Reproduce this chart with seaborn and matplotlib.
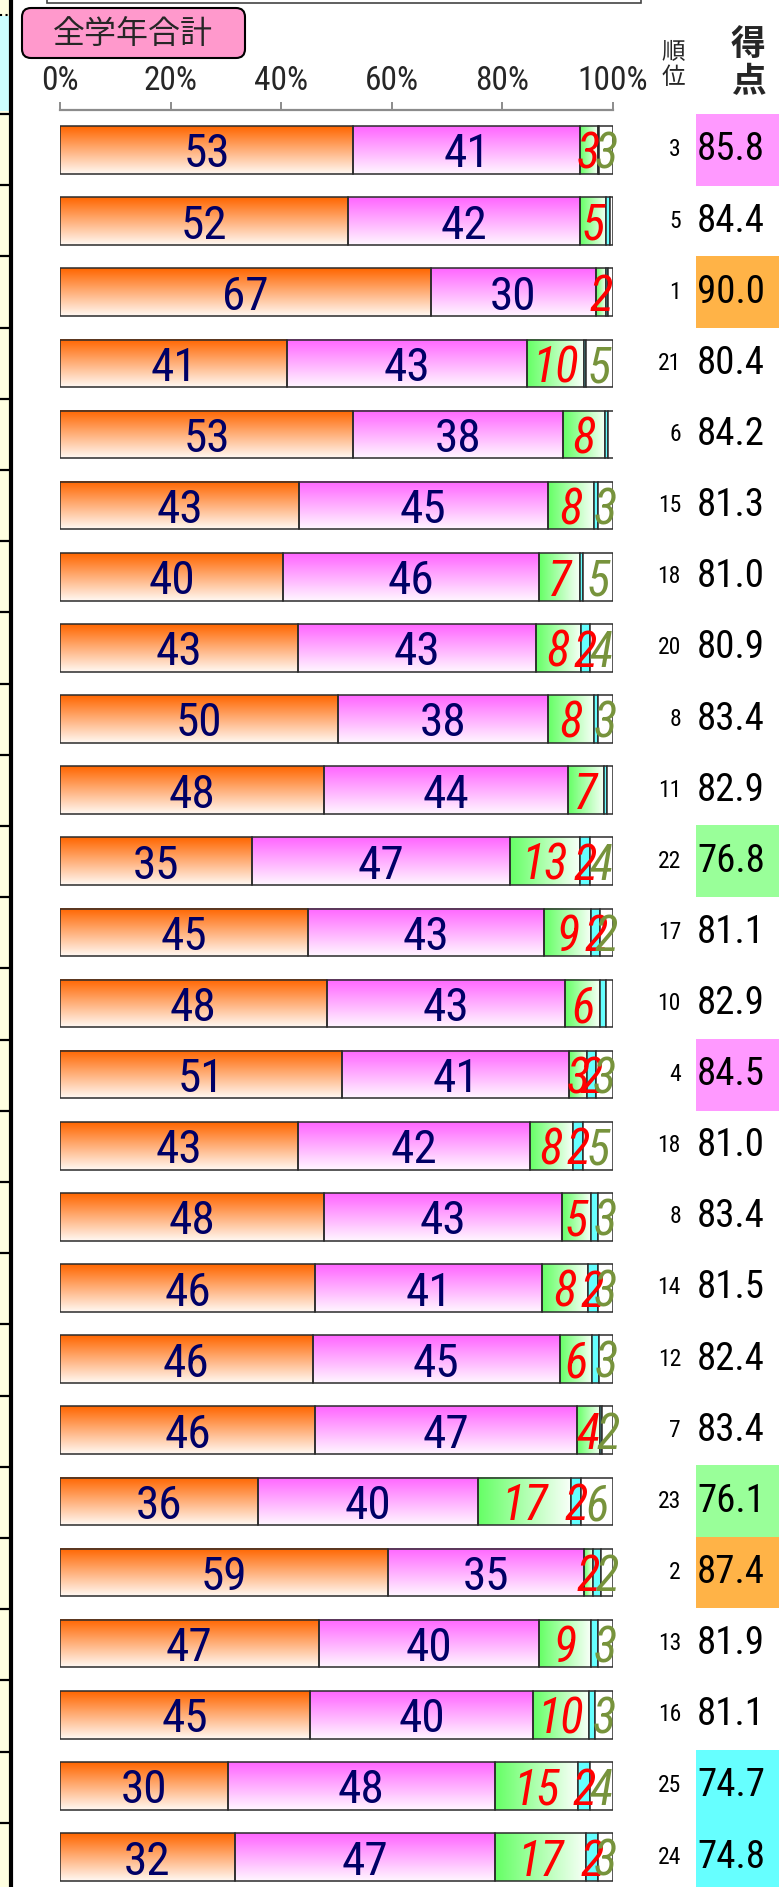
"""
全学年合計: stacked 100% bars per class with rank / score column.
"""
import matplotlib
matplotlib.use("Agg")
import matplotlib.pyplot as plt
from matplotlib import font_manager
from matplotlib.patches import FancyBboxPatch, Rectangle
from matplotlib.transforms import blended_transform_factory
import numpy as np
import pandas as pd
import seaborn as sns

# ---------------------------------------------------------------- data
orange = [53.0, 52.0, 67.0, 41.1, 53.0, 43.2, 40.3, 43.0, 50.2, 47.8,
          34.8, 44.8, 48.2, 51.0, 43.0, 47.8, 46.2, 45.7, 46.2, 35.8,
          59.4, 46.8, 45.2, 30.4, 31.6]
magenta = [41.0, 42.0, 30.0, 43.4, 38.0, 45.0, 46.3, 43.0, 38.0, 44.0,
           46.6, 42.7, 43.2, 41.0, 42.0, 43.0, 41.0, 44.7, 47.2, 39.8,
           35.4, 39.9, 40.4, 48.2, 47.0]
green = [3.2, 4.8, 1.8, 10.3, 7.6, 8.4, 7.4, 8.2, 8.4, 6.6,
         12.6, 8.6, 6.3, 3.3, 7.7, 5.2, 8.2, 5.8, 4.3, 16.8,
         1.6, 9.3, 10.0, 15.0, 16.6]
cyan = [0.2, 0.7, 0.3, 0.3, 0.5, 0.6, 0.6, 1.6, 0.6, 0.6,
        1.9, 1.6, 1.0, 1.6, 1.9, 1.2, 1.8, 1.2, 0.4, 1.9,
        1.4, 1.3, 1.2, 2.2, 2.0]
white = [2.6, 0.5, 0.9, 4.9, 1.0, 2.8, 5.4, 4.2, 2.8, 1.0,
         4.1, 2.3, 1.3, 3.1, 5.4, 2.8, 2.8, 2.6, 1.9, 5.7,
         2.2, 2.7, 3.2, 4.2, 2.8]
rank = [3, 5, 1, 21, 6, 15, 18, 20, 8, 11, 22, 17, 10, 4, 18,
        8, 14, 12, 7, 23, 2, 13, 16, 25, 24]
score = [85.8, 84.4, 90.0, 80.4, 84.2, 81.3, 81.0, 80.9, 83.4, 82.9,
         76.8, 81.1, 82.9, 84.5, 81.0, 83.4, 81.5, 82.4, 83.4, 76.1,
         87.4, 81.9, 81.1, 74.7, 74.8]
tick_values = [0, 20, 40, 60, 80, 100]
tick_labels = ["0%", "20%", "40%", "60%", "80%", "100%"]
title = "全学年合計"

# ---------------------------------------------------------------- style
names = {f.name for f in font_manager.fontManager.ttflist}
NARROW = next((n for n in ("Liberation Sans Narrow", "Roboto Condensed",
                           "PT Sans Narrow", "Archivo Narrow", "Asap Condensed")
               if n in names), "DejaVu Sans")
JP = ["Noto Sans CJK JP", "DejaVu Sans"]

sns.set_style("white")
plt.rcParams["font.family"] = [NARROW, "Noto Sans CJK JP", "DejaVu Sans"]

NAVY = "#000066"
RED = "#FF0000"
OLIVE = "#77933C"
EDGE = "#2b2b2b"
HILITE = {1: "#FFB347", 2: "#FFB347", 3: "#FF99FF", 4: "#FF99FF",
          22: "#99FF99", 23: "#99FF99", 24: "#66FFFF", 25: "#66FFFF"}

W, H = 779, 1887
fig = plt.figure(figsize=(W / 100, H / 100), dpi=100)

# pixel-space overlay for the frame decorations
deco = fig.add_axes([0, 0, 1, 1], zorder=0)
deco.set_xlim(0, W)
deco.set_ylim(H, 0)
deco.axis("off")

ax = fig.add_axes([60 / W, 0, 553 / W, (H - 110) / H], zorder=2)
ax.set_facecolor("none")

rows = [f"r{i:02d}" for i in range(len(orange))]
layers = [
    (orange, ("v", "#FF6600", "#FFF8F2"), NAVY, "normal"),
    (magenta, ("v", "#FF66FF", "#FFF6FF"), NAVY, "normal"),
    (green, ("h", "#66FF66", "#F8FFF8"), RED, "italic"),
    (cyan, (None, "#66FFFF", None), RED, "italic"),
    (white, (None, "#FFFFFF", None), OLIVE, "italic"),
]


def gradient(kind, c0, c1, n=64):
    a = np.array(matplotlib.colors.to_rgb(c0))
    b = np.array(matplotlib.colors.to_rgb(c1))
    t = np.linspace(0, 1, n)[:, None]
    g = a + (b - a) * t
    return g[:, None, :] if kind == "v" else g[None, :, :]


cum = np.zeros(len(orange))
for values, (kind, c0, c1), txt_color, style in layers:
    values = np.asarray(values)
    cum = cum + values
    df = pd.DataFrame({"row": rows, "total": cum})
    n_before = len(ax.patches)
    sns.barplot(data=df, x="total", y="row", orient="h", color=c0,
                width=0.67, edgecolor=EDGE, linewidth=1.1, saturation=1,
                ax=ax)
    for i, patch in enumerate(ax.patches[n_before:]):
        left = cum[i] - values[i]
        patch.set_x(left)
        patch.set_width(values[i])
        patch.set_zorder(3)
        y0, h = patch.get_y(), patch.get_height()
        if kind is not None:
            ax.imshow(gradient(kind, c0, c1), extent=(left, cum[i], y0 + h, y0),
                      origin="upper", aspect="auto", interpolation="bilinear",
                      zorder=2)
            patch.set_facecolor("none")
        if values[i] >= 1.5:
            ax.text(left + values[i] / 2, i, f"{values[i]:.0f}", ha="center",
                    va="center_baseline", color=txt_color, fontstyle=style,
                    fontsize=34 if style == "normal" else 35, zorder=5,
                    clip_on=False)

ax.set_xlim(0, 100)
ax.set_ylim(24 + (H - 1857) / 71.125, -(150 - 110) / 71.125)
ax.set_xlabel("")
ax.set_ylabel("")
ax.set_yticks([])
ax.xaxis.tick_top()
ax.set_xticks(tick_values)
ax.set_xticklabels(tick_labels)
ax.tick_params(axis="x", top=True, bottom=False, direction="out", length=6,
               width=1.4, color="#8c8c8c", labelsize=24, pad=3)
for side in ("left", "right", "bottom"):
    ax.spines[side].set_visible(False)
ax.spines["top"].set_color("#8c8c8c")
ax.spines["top"].set_linewidth(1.6)

# rank and score column (x in pixels, y in rows)
tr = blended_transform_factory(deco.transData, ax.transData)
for i, (r, s) in enumerate(zip(rank, score)):
    if r in HILITE:
        ax.add_patch(Rectangle((696, i - 0.505), 90, 1.01, transform=tr,
                               facecolor=HILITE[r], edgecolor="none",
                               clip_on=False, zorder=1))
    ax.text(681, i, str(r), transform=tr, ha="right", va="center",
            fontsize=17, color="black", clip_on=False)
    ax.text(731, i, f"{s:.1f}", transform=tr, ha="center", va="center",
            fontsize=28, color="black", clip_on=False)

# headers
for ch, y in zip("順位", (52, 78)):
    deco.text(673, y, ch, ha="center", va="center", fontsize=17, family=JP)
for ch, y in zip("得点", (44, 82)):
    deco.text(748, y, ch, ha="center", va="center", fontsize=25,
              fontweight="bold", family=JP)

# title box
deco.add_patch(FancyBboxPatch((30, 16), 207, 34,
                              boxstyle="round,pad=8,rounding_size=9",
                              facecolor="#FF99CC", edgecolor="black",
                              linewidth=1.5))
deco.text(133, 34, title, ha="center", va="center", fontsize=23, family=JP)

# top box edge and left frame remains
deco.add_patch(Rectangle((47, -20), 594, 23, facecolor="white",
                         edgecolor="#444444", linewidth=1.2))
deco.add_patch(Rectangle((0, 0), 10, H, facecolor="#FFFFE0", edgecolor="none"))
deco.add_patch(Rectangle((0, 16), 10, 95, facecolor="#CCFFFF", edgecolor="none"))
deco.plot([0, 10], [15, 15], color="black", linestyle=":", linewidth=1.5)
deco.plot([11.5, 11.5], [0, H], color="black", linewidth=3)
for k in range(25):
    y = 114 + k * 71.2
    deco.plot([0, 10], [y, y], color="black", linewidth=1.6)

fig.savefig("out.png", dpi=100)
